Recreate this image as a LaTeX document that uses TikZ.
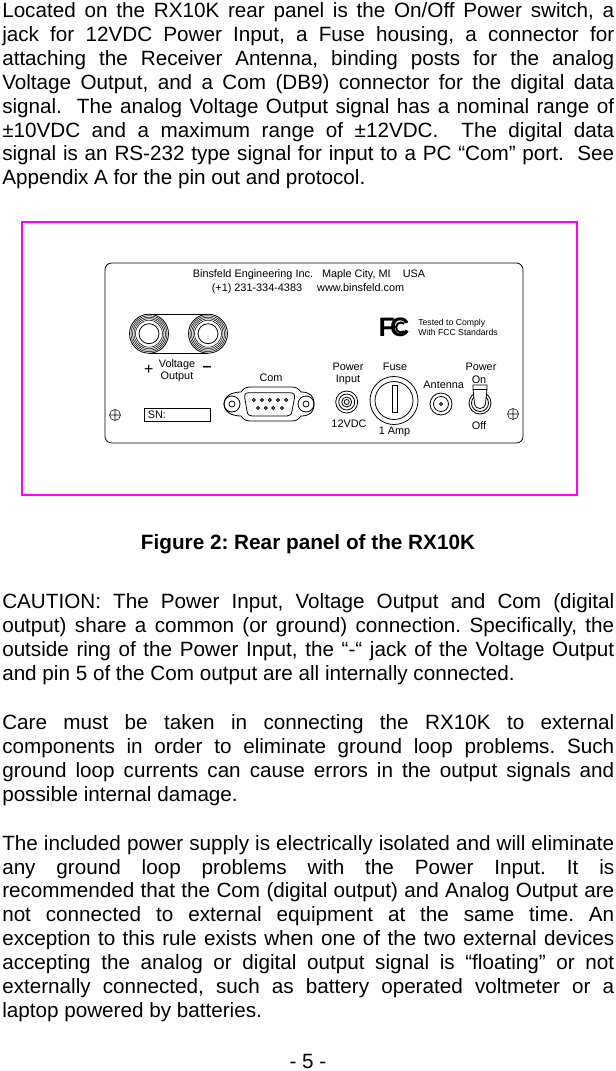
\documentclass[tikz,border=0pt]{standalone}
\usepackage{fontspec}
\setmainfont{Liberation Sans}
\usetikzlibrary{positioning}
\definecolor{framemagenta}{RGB}{255,0,255}
\tikzstyle{bodytext} = [anchor=north west, inner sep=0pt, text width=459pt, align=justify, font=\frenchspacing\fontsize{15.5}{17.9}\selectfont]
\tikzstyle{paneltext} = [inner sep=0pt, font=\fontsize{8.15}{9}\selectfont]
\tikzstyle{smalltext} = [inner sep=0pt, anchor=west, align=left, font=\fontsize{6.5}{7.5}\selectfont]
\tikzstyle{line} = [draw=black, line width=0.6pt]
\tikzstyle{thinline} = [draw=black, line width=0.4pt]
\begin{document}
\begin{tikzpicture}[x=0.75pt, y=-0.75pt, node distance = 10pt]
    \useasboundingbox (0,0) rectangle (616,1071);
    \node (Intro) [bodytext] at (2,2.5) {Located on the RX10K rear panel is the On/Off Power switch, a\linebreak
        jack for 12VDC Power Input, a Fuse housing, a connector for\linebreak
        attaching the Receiver Antenna, binding posts for the analog\linebreak
        Voltage Output, and a Com (DB9) connector for the digital data\linebreak
        signal.\ \ The analog Voltage Output signal has a nominal range of\linebreak
        ±10VDC and a maximum range of ±12VDC.\ \ The digital data\linebreak
        signal is an RS-232 type signal for input to a PC “Com” port.\ \ See\linebreak
        Appendix A for the pin out and protocol.};
    % frame and panel
    \draw [framemagenta, line width=1.5pt] (22,222) rectangle (576.5,495);
    \draw [line, rounded corners=5pt] (105,263) rectangle (523,443);
    \node (Maker) [paneltext] at (309,275) {Binsfeld Engineering Inc.\ \ \ Maple City, MI\ \ \ \ USA};
    \node (Phone) [paneltext] at (308,288.5) {(+1) 231-334-4383\ \ \ \ \ www.binsfeld.com};
    % binding posts
    \draw [line] (149,314) -- (208,314) (149,353.5) -- (208,353.5);
    \foreach \px in {149,208} {
        \filldraw [line, fill=white] (\px,333.7) circle (19.5);
        \foreach \pr in {18,16.5,15,13.5} \draw [thinline] (\px,333.7) circle (\pr);
        \draw [line] (\px,333.7) circle (10);
    }
    \node (Plus) [paneltext, font=\fontsize{12}{12}\selectfont] at (148.7,369.5) {+};
    \node (Minus) [paneltext, font=\bfseries\fontsize{12}{12}\selectfont] at (207,368.5) {--};
    \node (Voltage) [paneltext] at (177,365) {Voltage};
    \node (Output) [paneltext, below of=Voltage, node distance=9pt] {Output};
    % serial number and screws
    \draw [line] (144.3,408.3) rectangle (210,421);
    \node (SN) [paneltext, anchor=west] at (147.5,414.7) {SN:};
    \foreach \px/\py in {115/415,513/414} {
        \draw [thinline] (\px,\py) circle (5.5) (\px-5.5,\py) -- (\px+5.5,\py) (\px,\py-5.5) -- (\px,\py+5.5);
    }
    % com connector
    \node (Com) [paneltext] at (271,377.5) {Com};
    \draw [line] (241,392) .. controls (232,392) and (224,396) .. (224,404) .. controls (224,412) and (232,416) .. (241,416)
        .. controls (244,420) and (246,421) .. (251,421) -- (291,421) .. controls (296,421) and (298,420) .. (301,416)
        .. controls (310,416) and (314,412) .. (314,404) .. controls (314,396) and (310,392) .. (301,392)
        .. controls (298,388) and (296,387) .. (291,387) -- (251,387) .. controls (246,387) and (244,388) .. (241,392);
    \draw [line] (249,392.7) -- (290,392.7) .. controls (294,392.7) and (295,395) .. (294.5,398)
        -- (292,411) .. controls (291.5,414.5) and (290,416) .. (287,416) -- (252,416)
        .. controls (249,416) and (247.5,414.5) .. (247,411) -- (244.8,398) .. controls (244.3,395) and (245,392.7) .. (249,392.7);
    \foreach \px in {232,306} {
        \draw [line] (\px,404) circle (8);
        \draw [line] (\px,404) circle (3);
    }
    \foreach \px in {253.7,262,269.7,278,286.3} \draw [line] (\px,400) circle (1.5);
    \foreach \px in {258,265.7,273.3,282} \draw [line] (\px,408) circle (1.5);
    % fcc mark
    \node (Fcc) [inner sep=0pt, font=\bfseries\fontsize{20}{20}\selectfont] at (394,327.5) {F\kern-3.5pt C};
    \draw [line width=1.5pt] (401,327.5) ++(50:5) arc (50:310:5);
    \node (Tested) [smalltext] at (418,327.5) {Tested to Comply\\With FCC Standards};
    % power jack
    \node (PowerIn) [paneltext] at (348,366.5) {Power};
    \node (Input) [paneltext, below of=PowerIn] {Input};
    \foreach \pr in {11,8,5,2.5} \draw [line] (346.7,402) circle (\pr);
    \node (Volts) [paneltext] at (349,424) {12VDC};
    % fuse
    \node (Fuse) [paneltext] at (395,366.5) {Fuse};
    \foreach \pr in {24,19} \draw [line] (394,400.5) circle (\pr);
    \draw [line] (392,385) rectangle (397,412);
    \node (Amp) [paneltext] at (394.5,432) {1 Amp};
    % antenna
    \node (Antenna) [paneltext] at (443.7,385) {Antenna};
    \foreach \pr in {11,7.5,1.5} \draw [line] (441,404) circle (\pr);
    % toggle switch
    \node (PowerOn) [paneltext] at (481,366.5) {Power};
    \node (On) [paneltext, below of=PowerOn, xshift=-1.5pt] {On};
    \foreach \pr in {11,8.5} \draw [line] (480,403) circle (\pr);
    \filldraw [line, fill=white] (473,385) -- (487,385) -- (487,389) -- (485.5,404) .. controls (485,410) and (475,410) .. (474.5,404) -- (473,389) -- cycle;
    \draw [line] (473,389) -- (487,389);
    \node (Off) [paneltext] at (479,426) {Off};
    % caption and text below
    \node (Caption) [inner sep=0pt, font=\frenchspacing\bfseries\fontsize{15.55}{16}\selectfont] at (308,544) {Figure 2: Rear panel of the RX10K};
    \node (Caution) [bodytext] at (2,593.5) {CAUTION: The Power Input, Voltage Output and Com (digital\linebreak
        output) share a common (or ground) connection. Specifically, the\linebreak
        outside ring of the Power Input, the “-“ jack of the Voltage Output\linebreak
        and pin 5 of the Com output are all internally connected.};
    \node (Care) [bodytext] at (2,714.5) {Care must be taken in connecting the RX10K to external\linebreak
        components in order to eliminate ground loop problems. Such\linebreak
        ground loop currents can cause errors in the output signals and\linebreak
        possible internal damage.};
    \node (Supply) [bodytext] at (2,835) {The included power supply is electrically isolated and will eliminate\linebreak
        any ground loop problems with the Power Input. It is\linebreak
        recommended that the Com (digital output) and Analog Output are\linebreak
        not connected to external equipment at the same time. An\linebreak
        exception to this rule exists when one of the two external devices\linebreak
        accepting the analog or digital output signal is “floating” or not\linebreak
        externally connected, such as battery operated voltmeter or a\linebreak
        laptop powered by batteries.};
    \node (Page) [inner sep=0pt, font=\fontsize{15.5}{17}\selectfont] at (308,1061.5) {- 5 -};
\end{tikzpicture}
\end{document}
